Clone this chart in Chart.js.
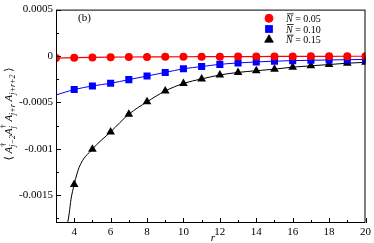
<!DOCTYPE html>
<html>
<head>
<meta charset="utf-8">
<script src="https://cdn.jsdelivr.net/npm/chart.js@4/dist/chart.umd.min.js"></script>
<style>
html, body { margin: 0; padding: 0; background: #fff; }
#wrap { width: 374px; height: 243px; }
</style>
</head>
<body>
<div id="wrap"><canvas id="chart" width="374" height="243"></canvas></div>
<script>
// marker values
const rRed = [3, 4, 5, 6, 7, 8, 9, 10, 11, 12, 13, 14, 15, 16, 17, 18, 19, 20];
const redValues = [-0.000022, -0.000018, -0.000015, -0.000013, -0.000011, -0.00001, -0.000009, -0.000008, -0.000007, -0.000007,
    -0.000006, -0.000006, -0.000005, -0.000005, -0.000004, -0.000004, -0.000003, -0.000003];
const rMarks = [4, 5, 6, 7, 8, 9, 10, 11, 12, 13, 14, 15, 16, 17, 18, 19, 20];
const blueValues = [-0.000362, -0.000323, -0.000294, -0.000255, -0.000216, -0.000177, -0.000138, -0.000114, -0.00009,
    -0.000075, -0.000064, -0.000056, -0.00005, -0.000046, -0.000043, -0.00004, -0.000037];
const blackValues = [-0.001385, -0.001004, -0.000818, -0.000628, -0.000494, -0.000377, -0.000296, -0.000247, -0.000205,
    -0.000177, -0.000159, -0.000142, -0.00012, -0.000106, -0.000092, -0.000078, -0.000068];

// fitted curves (extend beyond the markers at small r)
const blueFitR = [3, 3.5, 4, 5, 6, 7, 8, 9, 10, 11, 12, 13, 14, 15, 16, 17, 18, 19, 20];
const blueFitValues = [-0.00042, -0.00039, -0.000362, -0.000323, -0.000294, -0.000255, -0.000216, -0.000177, -0.000138,
    -0.000114, -0.00009, -0.000075, -0.000064, -0.000056, -0.00005, -0.000046, -0.000043, -0.00004, -0.000037];
const blackFitR = [3.64, 3.73, 3.82, 4, 4.27, 5, 6, 7, 8, 9, 10, 11, 12, 13, 14, 15, 16, 17, 18, 19, 20];
const blackFitValues = [-0.0018, -0.00169, -0.00155, -0.001385, -0.0012, -0.001004, -0.000818, -0.000628,
    -0.000494, -0.000377, -0.000296, -0.000247, -0.000205, -0.000177, -0.000159, -0.000142, -0.00012, -0.000106,
    -0.000092, -0.000078, -0.000068];

const xMajor = [4, 6, 8, 10, 12, 14, 16, 18, 20];
const yTicks = [-0.00175, -0.0015, -0.00125, -0.001, -0.00075, -0.0005, -0.00025, 0, 0.00025, 0.0005];
const yTickLabels = {'-0.0015': '-0.0015', '-0.001': '-0.001', '-0.0005': '-0.0005', '0': '0', '0.0005': '0.0005'};
const legendLabels = ['0.05', '0.10', '0.15'];
const seriesColors = ['#ff0000', '#0000ff', '#000000'];

const serif = '"Liberation Serif", "DejaVu Serif", serif';

function pts(xs, ys) {
    return xs.map((x, i) => ({x: x, y: ys[i]}));
}

const markerStyles = [
    {pointStyle: 'circle', radius: 4},
    {pointStyle: 'rect', radius: 5},
    {pointStyle: 'triangle', radius: 5}
];

const frameAndTicks = {
    id: 'frameAndTicks',
    afterDraw(chart) {
        const ctx = chart.ctx;
        const a = chart.chartArea;
        const xs = chart.scales.x, ys = chart.scales.y;
        ctx.save();
        ctx.strokeStyle = '#000';
        ctx.lineWidth = 1;
        ctx.strokeRect(a.left + 0.5, a.top + 0.5, a.right - a.left - 1, a.bottom - a.top - 1);
        ctx.beginPath();
        for (let r = 3; r <= 20; r++) {
            const px = Math.round(xs.getPixelForValue(r)) + 0.5;
            const len = r % 2 === 0 ? 5 : 3;
            ctx.moveTo(px, a.bottom);
            ctx.lineTo(px, a.bottom - len);
        }
        yTicks.forEach(v => {
            const py = Math.round(ys.getPixelForValue(v)) + 0.5;
            const len = yTickLabels[String(v)] !== undefined ? 5 : 3;
            ctx.moveTo(a.left, py);
            ctx.lineTo(a.left + len, py);
        });
        ctx.stroke();

        // panel label
        ctx.fillStyle = '#000';
        ctx.font = '11px ' + serif;
        ctx.textBaseline = 'middle';
        ctx.textAlign = 'left';
        ctx.fillText('(b)', 78, 18);

        // legend
        legendLabels.forEach((lab, i) => {
            const y = 18.3 + i * 10.7;
            ctx.fillStyle = seriesColors[i];
            ctx.strokeStyle = seriesColors[i];
            Chart.helpers.drawPoint(ctx, {pointStyle: markerStyles[i].pointStyle, radius: markerStyles[i].radius, borderWidth: 1}, 269, y);
            ctx.fillStyle = '#000';
            ctx.strokeStyle = '#000';
            ctx.font = 'italic 10px ' + serif;
            ctx.textAlign = 'left';
            ctx.fillText('N', 286, y + 1);
            const nw = ctx.measureText('N').width;
            ctx.beginPath();
            ctx.lineWidth = 0.8;
            ctx.moveTo(287, y - 4.5);
            ctx.lineTo(286 + nw + 1, y - 4.5);
            ctx.stroke();
            ctx.font = '10px ' + serif;
            ctx.fillText(' = ' + lab, 286 + nw, y + 1);
        });

        // x title
        ctx.font = 'italic 11px ' + serif;
        ctx.textAlign = 'center';
        ctx.fillText('r', 213, 238);

        // y title: groups of [base, sup, sub], sup and sub stacked
        const groups = [
            ['\u27e8 ', '', ''], ['A', '\u2020', 'j\u22122'], ['A', '\u2020', 'j'],
            [' A', '', 'j+r'], [' A', '', 'j+r+2'], [' \u27e9', '', '']
        ];
        const baseFont = i => (i === 0 || i === groups.length - 1) ? '11px ' + serif : 'italic 11px ' + serif;
        const smallFont = 'italic 8px ' + serif;
        const supFont = '8px ' + serif;
        const gw = groups.map((g, i) => {
            ctx.font = baseFont(i);
            const bw = ctx.measureText(g[0]).width;
            ctx.font = supFont;
            const sw = ctx.measureText(g[1]).width;
            ctx.font = smallFont;
            const uw = ctx.measureText(g[2]).width;
            return [bw, Math.max(sw, uw)];
        });
        const total = gw.reduce((s, w) => s + w[0] + w[1], 0);
        ctx.translate(12, 114);
        ctx.rotate(-Math.PI / 2);
        ctx.textAlign = 'left';
        ctx.textBaseline = 'alphabetic';
        let cx = -total / 2;
        groups.forEach((g, i) => {
            ctx.font = baseFont(i);
            ctx.fillText(g[0], cx, 0);
            cx += gw[i][0];
            ctx.font = supFont;
            if (g[1]) ctx.fillText(g[1], cx, -6);
            ctx.font = smallFont;
            if (g[2]) ctx.fillText(g[2], cx, 3);
            cx += gw[i][1];
        });
        ctx.restore();
    }
};

new Chart(document.getElementById('chart').getContext('2d'), {
    type: 'scatter',
    data: {
        datasets: [
            {data: pts(rRed, redValues), showLine: true, borderColor: '#ff0000', borderWidth: 1.2, backgroundColor: '#ff0000',
                pointStyle: 'circle', pointRadius: 4, pointBorderWidth: 0},
            {data: pts(blueFitR, blueFitValues), showLine: true, borderColor: '#0000ff', borderWidth: 1,
                pointRadius: 0, cubicInterpolationMode: 'monotone'},
            {data: pts(rMarks, blueValues), showLine: false, backgroundColor: '#0000ff', borderColor: '#0000ff',
                pointStyle: 'rect', pointRadius: 5, pointBorderWidth: 0},
            {data: pts(blackFitR, blackFitValues), showLine: true, borderColor: '#000', borderWidth: 1,
                pointRadius: 0, cubicInterpolationMode: 'monotone'},
            {data: pts(rMarks, blackValues), showLine: false, backgroundColor: '#000', borderColor: '#000',
                pointStyle: 'triangle', pointRadius: 5, pointBorderWidth: 0}
        ]
    },
    options: {
        responsive: false,
        animation: false,
        events: [],
        layout: {padding: {left: 0, right: 4, top: 6, bottom: 0}},
        plugins: {legend: {display: false}, tooltip: {enabled: false}},
        scales: {
            x: {
                type: 'linear', min: 3, max: 20,
                afterBuildTicks: s => { s.ticks = xMajor.map(v => ({value: v})); },
                afterFit: s => { s.height = 20; },
                grid: {display: false, drawTicks: false, tickLength: 0},
                border: {display: false},
                ticks: {color: '#000', font: {family: serif, size: 11}, padding: 3, maxRotation: 0,
                    callback: v => String(v)}
            },
            y: {
                type: 'linear', min: -0.0018, max: 0.0005,
                afterBuildTicks: s => { s.ticks = yTicks.map(v => ({value: v})); },
                afterFit: s => { s.width = 56; },
                grid: {display: false, drawTicks: false, tickLength: 0},
                border: {display: false},
                ticks: {color: '#000', font: {family: serif, size: 11}, padding: 3, autoSkip: false,
                    callback: v => {
                        const key = String(Math.round(v * 100000) / 100000);
                        return yTickLabels[key] !== undefined ? yTickLabels[key] : '';
                    }}
            }
        }
    },
    plugins: [frameAndTicks]
});
</script>
</body>
</html>
